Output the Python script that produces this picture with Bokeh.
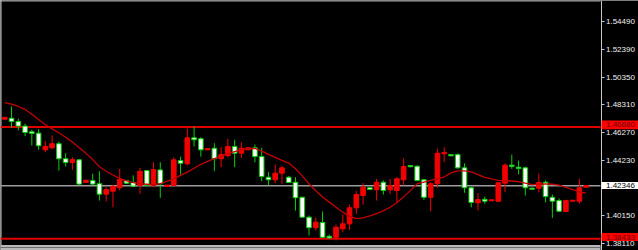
from bokeh.plotting import figure
from bokeh.models import Range1d, FixedTicker, PrintfTickFormatter, LinearAxis, ColumnDataSource
from bokeh.core.properties import value
from bokeh.embed import file_html
from bokeh.resources import INLINE

# --- price data (one entry per bar) ---
opens = [1.4726, 1.4733, 1.4709, 1.4675, 1.4633, 1.4623, 1.4500, 1.4515, 1.4545, 1.4434,
         1.4406, 1.4426, 1.4259, 1.4274, 1.4250, 1.4173, 1.4195, 1.4220, 1.4274, 1.4259,
         1.4237, 1.4347, 1.4237, 1.4352, 1.4230, 1.4237, 1.4421, 1.4397, 1.4589, 1.4582,
         1.4500, 1.4512, 1.4434, 1.4458, 1.4525, 1.4475, 1.4500, 1.4515, 1.4450, 1.4298,
         1.4279, 1.4328, 1.4298, 1.4261, 1.4150, 1.4003, 1.3925, 1.3964, 1.3862, 1.3855,
         1.3917, 1.3954, 1.4072, 1.4163, 1.4220, 1.4205, 1.4261, 1.4205, 1.4200, 1.4279,
         1.4384, 1.4379, 1.4279, 1.4150, 1.4250, 1.4471, 1.4465, 1.4465, 1.4367, 1.4220,
         1.4109, 1.4135, 1.4124, 1.4121, 1.4254, 1.4387, 1.4372, 1.4367, 1.4217, 1.4217,
         1.4261, 1.4150, 1.4126, 1.4045, 1.4121, 1.4121, 1.4224]

highs = [1.4743, 1.4820, 1.4729, 1.4693, 1.4648, 1.4653, 1.4564, 1.4606, 1.4562, 1.4475,
         1.4445, 1.4432, 1.4278, 1.4324, 1.4342, 1.4224, 1.4242, 1.4360, 1.4278, 1.4311,
         1.4367, 1.4352, 1.4408, 1.4408, 1.4242, 1.4445, 1.4450, 1.4656, 1.4672, 1.4594,
         1.4512, 1.4549, 1.4519, 1.4582, 1.4574, 1.4556, 1.4517, 1.4539, 1.4515, 1.4335,
         1.4392, 1.4384, 1.4307, 1.4298, 1.4155, 1.4015, 1.3998, 1.4045, 1.3875, 1.3949,
         1.4023, 1.4096, 1.4195, 1.4254, 1.4224, 1.4286, 1.4274, 1.4286, 1.4298, 1.4438,
         1.4387, 1.4386, 1.4286, 1.4261, 1.4507, 1.4519, 1.4468, 1.4475, 1.4401, 1.4230,
         1.4180, 1.4155, 1.4133, 1.4263, 1.4401, 1.4465, 1.4421, 1.4377, 1.4222, 1.4324,
         1.4274, 1.4170, 1.4141, 1.4133, 1.4130, 1.4286, 1.4239]

lows = [1.4723, 1.4663, 1.4643, 1.4601, 1.4532, 1.4500, 1.4482, 1.4507, 1.4347, 1.4377,
        1.4352, 1.4241, 1.4257, 1.4237, 1.4126, 1.4119, 1.4076, 1.4200, 1.4248, 1.4224,
        1.4175, 1.4230, 1.4224, 1.4146, 1.4228, 1.4230, 1.4318, 1.4384, 1.4525, 1.4450,
        1.4498, 1.4342, 1.4372, 1.4445, 1.4372, 1.4441, 1.4498, 1.4408, 1.4268, 1.4237,
        1.4254, 1.4250, 1.4255, 1.4052, 1.3997, 1.3868, 1.3905, 1.3848, 1.3846, 1.3831,
        1.3892, 1.3910, 1.4028, 1.4096, 1.4203, 1.4126, 1.4170, 1.4175, 1.4113, 1.4237,
        1.4372, 1.4268, 1.4131, 1.4047, 1.4220, 1.4408, 1.4453, 1.4360, 1.4183, 1.4076,
        1.4052, 1.4102, 1.4122, 1.4115, 1.4187, 1.4360, 1.4318, 1.4163, 1.4204, 1.4187,
        1.4113, 1.3998, 1.4041, 1.4040, 1.4119, 1.4102, 1.4222]

closes = [1.4740, 1.4709, 1.4675, 1.4628, 1.4621, 1.4530, 1.4525, 1.4545, 1.4434, 1.4406,
          1.4428, 1.4247, 1.4276, 1.4247, 1.4173, 1.4207, 1.4230, 1.4281, 1.4254, 1.4232,
          1.4342, 1.4237, 1.4354, 1.4250, 1.4240, 1.4426, 1.4401, 1.4589, 1.4574, 1.4500,
          1.4510, 1.4434, 1.4465, 1.4525, 1.4475, 1.4512, 1.4515, 1.4450, 1.4303, 1.4279,
          1.4328, 1.4367, 1.4259, 1.4146, 1.4003, 1.3925, 1.3966, 1.3855, 1.3850, 1.3929,
          1.3954, 1.4072, 1.4170, 1.4224, 1.4207, 1.4261, 1.4200, 1.4237, 1.4286, 1.4377,
          1.4375, 1.4274, 1.4150, 1.4250, 1.4475, 1.4480, 1.4456, 1.4367, 1.4220, 1.4111,
          1.4133, 1.4121, 1.4131, 1.4257, 1.4387, 1.4377, 1.4362, 1.4220, 1.4209, 1.4259,
          1.4155, 1.4121, 1.4047, 1.4126, 1.4128, 1.4220, 1.4237]

# moving average of the close
ma = [1.4849, 1.4838, 1.4820, 1.4798, 1.4763, 1.4724, 1.4685, 1.4655, 1.4626, 1.4593,
      1.4557, 1.4516, 1.4474, 1.4428, 1.4375, 1.4342, 1.4314, 1.4289, 1.4271, 1.4258,
      1.4250, 1.4246, 1.4242, 1.4250, 1.4268, 1.4286, 1.4311, 1.4336, 1.4364, 1.4393,
      1.4415, 1.4435, 1.4454, 1.4472, 1.4487, 1.4501, 1.4508, 1.4511, 1.4490, 1.4466,
      1.4445, 1.4422, 1.4402, 1.4360, 1.4308, 1.4250, 1.4198, 1.4152, 1.4114, 1.4077,
      1.4040, 1.4009, 1.3993, 1.3998, 1.4012, 1.4029, 1.4050, 1.4076, 1.4109, 1.4153,
      1.4199, 1.4250, 1.4262, 1.4274, 1.4286, 1.4300, 1.4330, 1.4345, 1.4345, 1.4338,
      1.4317, 1.4297, 1.4285, 1.4274, 1.4272, 1.4270, 1.4266, 1.4254, 1.4244, 1.4247,
      1.4249, 1.4246, 1.4240, 1.4223, 1.4207, 1.4190, 1.4181]

# horizontal levels
resistance = 1.46680
support = 1.38433
last_price = 1.42346

# price scale ticks
tick_values = [1.54490, 1.52390, 1.50350, 1.48310, 1.46270, 1.44230, 1.40150, 1.38110]

# --- colours ---
BULL_FILL, BULL_LINE = "#f20000", "#f20000"
BEAR_FILL, BEAR_LINE = "#ffffff", "#00d000"

# --- geometry of the window ---
W, H = 638, 250
CHART_W = 600          # chart area width; the price scale sits to its right
BAR_STEP = 6.76        # pixels per bar
FIRST_BAR_PX = 4.3     # pixel centre of the first bar
Y_BOT, Y_TOP = 1.37571, 1.56021
x_start = -FIRST_BAR_PX / BAR_STEP
x_end = x_start + W / BAR_STEP
scale_x = x_start + (CHART_W + 0.5) / BAR_STEP


def price_to_px(v):
    """Pixel row (from the top) of a price on the chart's vertical scale."""
    return (Y_TOP - v) / (Y_TOP - Y_BOT) * H


n = len(opens)
idx = list(range(n))
bull = [c > o for o, c in zip(opens, closes)]

src = ColumnDataSource(dict(
    x=idx,
    high=highs,
    low=lows,
    top=[max(o, c) for o, c in zip(opens, closes)],
    bottom=[min(o, c) for o, c in zip(opens, closes)],
    fill=[BULL_FILL if b else BEAR_FILL for b in bull],
    line=[BULL_LINE if b else BEAR_LINE for b in bull],
))

p = figure(width=W, height=H, output_backend="svg", toolbar_location=None,
           x_range=Range1d(x_start, x_end), y_range=Range1d(Y_BOT, Y_TOP),
           x_axis_location=None, y_axis_location=None,
           background_fill_color="black", border_fill_color="black",
           min_border_left=0, min_border_top=0, min_border_bottom=0, min_border_right=0)
p.outline_line_color = None
p.grid.grid_line_color = None

# pixel-space ranges for the window chrome (frame edges, bottom scroll strip, price tags)
p.extra_x_ranges = {"px": Range1d(0, W)}
p.extra_y_ranges = {"py": Range1d(H, 0)}
p.quad(left=0, right=CHART_W, top=244.5, bottom=H, fill_color="#b8b8b8", line_color=None,
       x_range_name="px", y_range_name="py")
p.quad(left=0, right=CHART_W, top=246.5, bottom=247.6, fill_color="#6c6c6c", line_color=None,
       x_range_name="px", y_range_name="py")
p.quad(left=0, right=CHART_W, top=0, bottom=1, fill_color="#a8a8a8", line_color=None,
       x_range_name="px", y_range_name="py")
p.quad(left=0, right=1, top=0, bottom=244.5, fill_color="#c8c8c8", line_color=None,
       x_range_name="px", y_range_name="py")

# level lines across the chart area
levels = [resistance, support, last_price]
p.segment(x0=[0, 0, 0], x1=[CHART_W] * 3, y0=levels, y1=levels,
          line_color=["#e00000", "#e00000", "#9c9c9c"], line_width=[2, 2, 1.6],
          x_range_name="px")

# candles
p.segment(x0="x", y0="low", x1="x", y1="high", line_color="line", line_width=1, source=src)
p.vbar(x="x", width=0.68, top="top", bottom="bottom", fill_color="fill", line_color="line",
       line_width=1, source=src)

# moving average
p.line(idx, ma, line_color="#c40000", line_width=1.3)

# right price scale, pinned to the edge of the chart area
ax = LinearAxis(fixed_location=scale_x, ticker=FixedTicker(ticks=tick_values),
                formatter=PrintfTickFormatter(format="%.5f"))
ax.axis_line_color = "#c8c8c8"
ax.major_tick_line_color = "#c8c8c8"
ax.major_tick_out = 3
ax.major_tick_in = 0
ax.minor_tick_line_color = None
ax.major_label_standoff = 2
ax.major_label_text_color = "#f0f0f0"
ax.major_label_text_font = "Liberation Sans"
ax.major_label_text_font_size = "8px"
p.add_layout(ax, "right")

# price tags on the scale (drawn above the tick labels)
tags = [(resistance, "#ff0000", "#6a0000", 2.2, 8.6),
        (support, "#ff0000", "#6a0000", 1.8, 8.2),
        (last_price, "#ffffff", "#000000", 0.3, 7.2)]
tag_src = ColumnDataSource(dict(
    cy=[price_to_px(v) - up for v, _, _, up, _ in tags],
    half=[h / 2 for *_, h in tags],
    text=[f"{v:.5f}" for v, *_ in tags],
    bg=[bg for _, bg, _, _, _ in tags],
    fg=[fg for _, _, fg, _, _ in tags],
))
tag_src.data["top"] = [c - h for c, h in zip(tag_src.data["cy"], tag_src.data["half"])]
tag_src.data["bottom"] = [c + h for c, h in zip(tag_src.data["cy"], tag_src.data["half"])]
p.quad(left=CHART_W + 1, right=W, top="top", bottom="bottom", fill_color="bg", line_color=None,
       source=tag_src, x_range_name="px", y_range_name="py", level="overlay")
p.text(x=CHART_W + 5.5, y="cy", text="text", text_color="fg", text_baseline="middle",
       text_font=value("Liberation Sans"), text_font_size="8px",
       source=tag_src, x_range_name="px", y_range_name="py", level="overlay")

open("out.html", "w").write(file_html(p, INLINE))
